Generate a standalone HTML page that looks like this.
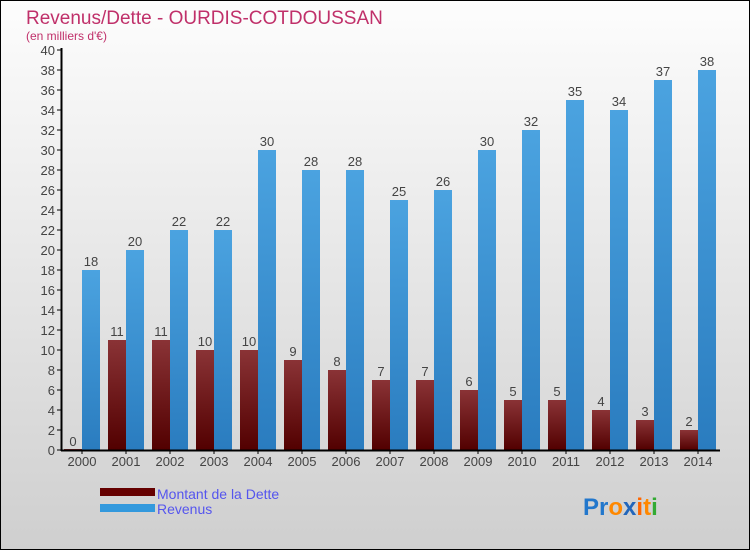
<!DOCTYPE html>
<html><head><meta charset="utf-8"><style>
body{margin:0}
#wrap{position:relative;width:750px;height:550px;box-sizing:border-box;border:1px solid #000;background:linear-gradient(#fdfdfd,#cfcfcf);font-family:"Liberation Sans",sans-serif;overflow:hidden}
</style></head><body>
<div id="wrap">
<svg id="chart" width="750" height="550" style="position:absolute;left:-1px;top:-1px">
<defs>
<linearGradient id="gd" x1="0" y1="0" x2="0" y2="1"><stop offset="0" stop-color="#8a3336"/><stop offset="1" stop-color="#520000"/></linearGradient>
<linearGradient id="gr" x1="0" y1="0" x2="0" y2="1"><stop offset="0" stop-color="#4ba3e0"/><stop offset="1" stop-color="#2a7cbf"/></linearGradient>
</defs>
<text x="26" y="24" font-size="19" fill="#c0306a">Revenus/Dette - OURDIS-COTDOUSSAN</text>
<text x="26" y="40" font-size="12" fill="#c0306a">(en milliers d'€)</text>
<g id="plot"></g>
<rect x="100" y="488" width="55" height="8" fill="#650000"/>
<text x="157" y="499" font-size="14" fill="#5555ee">Montant de la Dette</text>
<rect x="100" y="504" width="55" height="8" fill="#3399dd"/>
<text x="157" y="514" font-size="14" fill="#5555ee">Revenus</text>
<text x="583" y="515" font-size="24" font-weight="bold"><tspan fill="#2277cc">Pr</tspan><tspan fill="#ff8800">o</tspan><tspan fill="#2266bb">x</tspan><tspan fill="#ff6600">i</tspan><tspan fill="#ff8800">t</tspan><tspan fill="#33aa33">i</tspan></text>
</svg>
</div>
<script>
const years=["2000","2001","2002","2003","2004","2005","2006","2007","2008","2009","2010","2011","2012","2013","2014"];
const dette=[0,11,11,10,10,9,8,7,7,6,5,5,4,3,2];
const revenus=[18,20,22,22,30,28,28,25,26,30,32,35,34,37,38];
const yTicks=[0,2,4,6,8,10,12,14,16,18,20,22,24,26,28,30,32,34,36,38,40];
const NS="http://www.w3.org/2000/svg";
const g=document.getElementById('plot');
const y=v=>450-v*10;
const xg=i=>64+44*i;
function mk(t,a){const e=document.createElementNS(NS,t);for(const k in a)e.setAttribute(k,a[k]);g.appendChild(e);return e;}
yTicks.forEach(t=>{
 const l=mk('line',{x1:57,x2:62,y1:y(t),y2:y(t),stroke:'#000'});
 
 
 const tx=mk('text',{x:55,y:y(t)+5,'font-size':13,fill:'#444','text-anchor':'end'});tx.textContent=t;
 
 
});
years.forEach((yr,i)=>{
 const x=xg(i);
 const d=mk('rect',{x:x,y:y(dette[i])-(dette[i]===0?1:0),width:18,height:Math.max(1,dette[i]*10),fill:'url(#gd)'});
 
 
 const r=mk('rect',{x:x+18,y:y(revenus[i]),width:18,height:revenus[i]*10,fill:'url(#gr)'});
 
 
 const dl=mk('text',{x:x+9,y:y(dette[i])-4,'font-size':13,fill:'#444','text-anchor':'middle'});dl.textContent=dette[i];
 
 
 const rl=mk('text',{x:x+27,y:y(revenus[i])-4,'font-size':13,fill:'#444','text-anchor':'middle'});rl.textContent=revenus[i];
 
 
 const tk=mk('line',{x1:x+18,x2:x+18,y1:450,y2:454,stroke:'#000'});
 
 
 const xl=mk('text',{x:x+18,y:466,'font-size':13,fill:'#444','text-anchor':'middle'});xl.textContent=yr;
 
 
});
const ax=mk('line',{x1:61.5,x2:61.5,y1:48,y2:451,stroke:'#000','stroke-width':2});


const bx=mk('line',{x1:61,x2:720,y1:450.5,y2:450.5,stroke:'#000','stroke-width':2});


</script>
</body></html>
